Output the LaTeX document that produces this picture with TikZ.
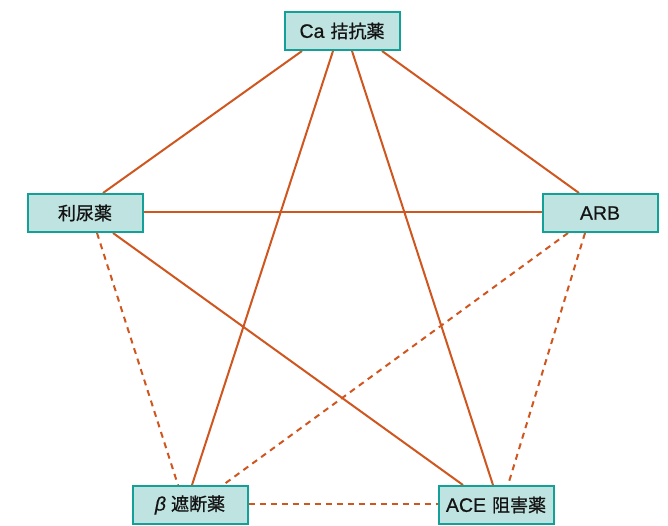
\documentclass[tikz,border=0pt]{standalone}
\usepackage{fontspec}
\setmainfont{Noto Sans CJK JP}
\newfontfamily\cjk{Noto Sans CJK JP}[RawFeature={embolden=1.0}]
\newfontfamily\lat{Liberation Sans}[RawFeature={embolden=0.6}]
\usetikzlibrary{calc,backgrounds}
\definecolor{boxfill}{HTML}{BFE3E0}
\definecolor{boxline}{HTML}{12A099}
\definecolor{linkc}{HTML}{D0561F}
\tikzset{
  drug/.style={draw=boxline, fill=boxfill, line width=2pt, minimum width=115pt, minimum height=38pt, inner sep=0pt, text=black!92},
  solidlink/.style={draw=linkc, line width=2pt},
  dashlink/.style={draw=linkc, line width=2pt, dash pattern=on 6pt off 5pt}
}
\newcommand{\lattxt}[1]{{\fontsize{19.5}{22}\selectfont\lat #1}}
\newcommand{\jptxt}[1]{{\fontsize{18}{22}\selectfont\cjk #1}}
\begin{document}
\begin{tikzpicture}[x=1pt,y=-1pt]
\useasboundingbox (0,0) rectangle (668,526);
\node[drug] (ca) at (342,31) {\lattxt{Ca}\hspace{6pt}\jptxt{拮抗薬}};
\node[drug] (diu) at (85,213) {\jptxt{利尿薬}};
\node[drug] (arb) at (600,213) {\lattxt{ARB}};
\node[drug] (beta) at (190,505) {\lattxt{\itshape β}\hspace{5pt}\jptxt{遮断薬}};
\node[drug] (ace) at (496,505) {\lattxt{ACE}\hspace{6pt}\jptxt{阻害薬}};
\begin{scope}[on background layer]
\draw[solidlink] ($(ca.south)+(-40,0)$) -- ($(diu.north)+(18,0)$);
\draw[solidlink] ($(ca.south)+(-9,0)$) -- ($(beta.north)+(2,0)$);
\draw[solidlink] ($(ca.south)+(10,0)$) -- ($(ace.north)+(-3,0)$);
\draw[solidlink] ($(ca.south)+(40,0)$) -- ($(arb.north)+(-21,0)$);
\draw[solidlink] ($(diu.east)+(0,-1)$) -- ($(arb.west)+(0,-1)$);
\draw[solidlink] ($(diu.south)+(28,0)$) -- ($(ace.north)+(-33,0)$);
\draw[dashlink] ($(diu.south)+(12,0)$) -- ($(beta.north)+(-12,0)$);
\draw[dashlink] ($(arb.south)+(-32,0)$) -- ($(beta.north)+(33,0)$);
\draw[dashlink] ($(arb.south)+(-15,0)$) -- ($(ace.north)+(12,0)$);
\draw[dashlink] ($(beta.east)+(0,-1)$) -- ($(ace.west)+(0,-1)$);
\end{scope}
\end{tikzpicture}
\end{document}
